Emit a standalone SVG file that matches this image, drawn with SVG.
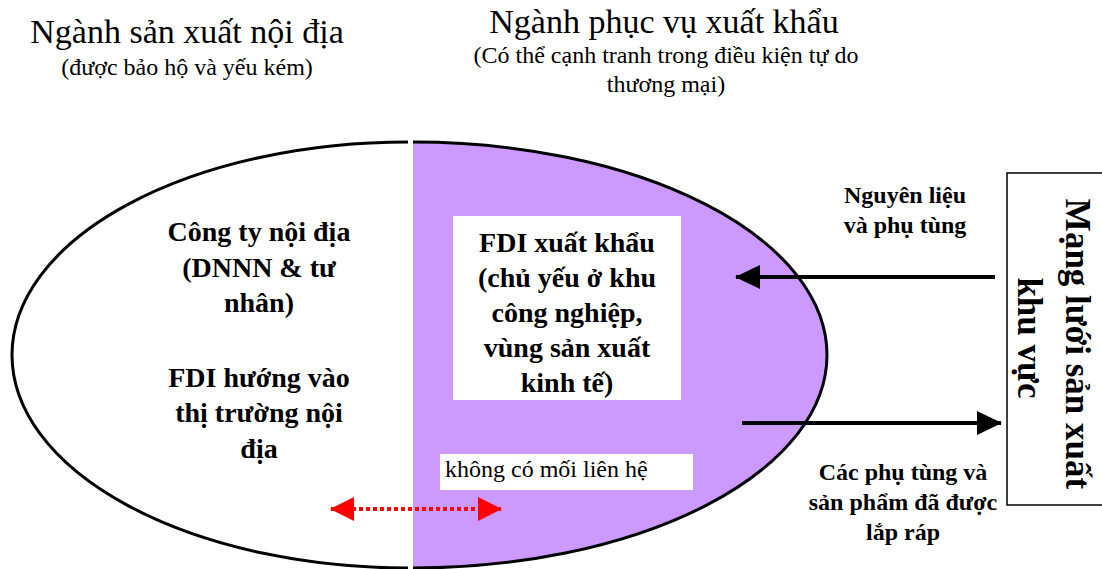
<svg xmlns="http://www.w3.org/2000/svg" width="1102" height="569" viewBox="0 0 1102 569">
<style>
.t{font-family:"Liberation Serif","Times New Roman",serif;fill:#000}
.title{font-size:34px}
.sub{font-size:24px}
.b28{font-size:28px;font-weight:bold}
.b24{font-size:24px;font-weight:bold}
.b35{font-size:35px;font-weight:bold}
.m{text-anchor:middle}
.arc{stroke:#000;stroke-width:3}
.conn{stroke:#000;stroke-width:4;fill:none}
</style>
<defs>
<marker id="ah" viewBox="0 0 25 24" refX="24" refY="12" markerWidth="25" markerHeight="24" markerUnits="userSpaceOnUse" orient="auto">
<path d="M0,0 L25,12 L0,24 Z" fill="#000"/>
</marker>
<marker id="rh" viewBox="0 0 24 24" refX="23" refY="12" markerWidth="24" markerHeight="24" markerUnits="userSpaceOnUse" orient="auto-start-reverse">
<path d="M0,0 L24,12 L0,24 Z" fill="#FF0000"/>
</marker>
</defs>
<rect width="1102" height="569" fill="#fff"/>

<g id="title-domestic">
<text class="t title m" x="187" y="43">Ngành sản xuất nội địa</text>
<text class="t sub m" x="187" y="75">(được bảo hộ và yếu kém)</text>
</g>
<g id="title-export">
<text class="t title m" x="664" y="33">Ngành phục vụ xuất khẩu</text>
<text class="t sub m" x="666" y="63">(Có thể cạnh tranh trong điều kiện tự do</text>
<text class="t sub m" x="666" y="92">thương mại)</text>
</g>

<g id="domestic-half">
<path class="arc" d="M408,142 A396,213 0 0 0 408,568" fill="#fff"/>
<text class="t b28 m" x="259" y="241">Công ty nội địa</text>
<text class="t b28 m" x="259" y="277">(DNNN &amp; tư</text>
<text class="t b28 m" x="259" y="312">nhân)</text>
<text class="t b28 m" x="259" y="387">FDI hướng vào</text>
<text class="t b28 m" x="259" y="422">thị trường nội</text>
<text class="t b28 m" x="259" y="458">địa</text>
</g>

<g id="export-half">
<path class="arc" d="M413,142 A414,213 0 0 1 413,568" fill="#CC99FF"/>
</g>

<g id="fdi-export">
<rect x="453" y="216" width="228" height="184" fill="#fff"/>
<text class="t b28 m" x="567" y="252">FDI xuất khẩu</text>
<text class="t b28 m" x="567" y="287">(chủ yếu ở khu</text>
<text class="t b28 m" x="567" y="322">công nghiệp,</text>
<text class="t b28 m" x="567" y="357">vùng sản xuất</text>
<text class="t b28 m" x="567" y="392">kinh tế)</text>
</g>

<g id="no-link-label">
<rect x="440" y="454" width="253" height="36" fill="#fff"/>
<text class="t sub" x="445" y="477">không có mối liên hệ</text>
</g>

<g id="regional-network">
<path d="M1102,173 H1007 V505 H1102" fill="#fff" stroke="#000" stroke-width="1.5"/>
<g transform="translate(1066,342) rotate(90)">
<text class="t b35 m" x="2" y="0">Mạng lưới sản xuất</text>
<text class="t b35 m" x="-4" y="48">khu vực</text>
</g>
</g>

<g id="label-inputs">
<text class="t b24 m" x="905" y="203">Nguyên liệu</text>
<text class="t b24 m" x="905" y="233">và phụ tùng</text>
</g>
<g id="label-outputs">
<text class="t b24 m" x="903" y="480">Các phụ tùng và</text>
<text class="t b24 m" x="903" y="510">sản phẩm đã được</text>
<text class="t b24 m" x="903" y="540">lắp ráp</text>
</g>

<g id="connectors">
<line class="conn" x1="995" y1="277" x2="736" y2="277" marker-end="url(#ah)"/>
<line class="conn" x1="742" y1="423" x2="1001" y2="423" marker-end="url(#ah)"/>
<line x1="331" y1="509" x2="501" y2="509" stroke="#FF0000" stroke-width="4" stroke-dasharray="4,3" marker-start="url(#rh)" marker-end="url(#rh)"/>
</g>
</svg>
